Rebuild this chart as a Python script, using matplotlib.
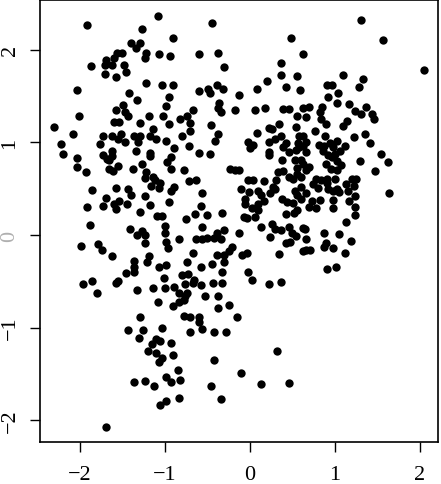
import numpy as np
import matplotlib
matplotlib.use("Agg")
import matplotlib.pyplot as plt

# points, grouped roughly by region
x_upper_left = [-1.08, -1.92, -1.27, -0.91, -1.40, -1.29, -1.34, -1.22, -1.24, -1.07, -0.94, -1.57, -1.50,
                -1.60, -1.69, -1.62, -1.70, -1.87, -1.48, -1.71, -1.58, -1.46, -1.22, -1.04, -0.91, -2.04,
                -1.42, -1.33, -0.95, -1.49, -1.58, -1.47, -1.44, -0.99, -2.01, -1.19, -1.02, -1.60, -1.54,
                -1.29, -2.31, -1.14, -0.95, -2.08, -1.73, -1.62, -1.52, -1.55, -1.47, -1.36, -1.29, -1.32,
                -1.18, -1.11, -0.99, -2.22, -1.77]
y_upper_left = [2.36, 2.27, 2.22, 2.13, 2.07, 2.07, 2.02, 1.97, 1.91, 1.95, 1.93, 1.97, 1.97,
                1.91, 1.89, 1.84, 1.84, 1.83, 1.84, 1.74, 1.71, 1.76, 1.64, 1.62, 1.62, 1.57,
                1.53, 1.46, 1.49, 1.40, 1.35, 1.33, 1.28, 1.39, 1.28, 1.28, 1.28, 1.22, 1.22,
                1.21, 1.17, 1.14, 1.20, 1.09, 1.07, 1.07, 1.09, 1.04, 1.00, 1.07, 1.07, 1.01,
                1.07, 1.04, 1.02, 0.98, 0.98]

x_upper_mid = [-0.45, 0.48, -0.60, -0.38, 0.63, -0.31, 0.36, 0.36, 0.55, -0.60, -0.49, -0.47, -0.39,
               -0.32, -0.13, 0.08, 0.20, 0.43, 0.59, -0.67, -0.36, -0.37, -0.34, -0.17, 0.06, 0.18,
               0.39, 0.46, 0.62, 0.55, -0.82, -0.74, -0.71, -0.71, -0.46, -0.80, -0.38, -0.41, 0.34,
               0.22, 0.26, 0.54, 0.08, -0.02, 0.04, 0.22, 0.30, 0.36, 0.42, 0.58, 0.62, 0.57, 0.63,
               -0.89, -0.72]
y_upper_mid = [2.29, 2.13, 1.95, 1.97, 1.95, 1.81, 1.86, 1.73, 1.72, 1.56, 1.58, 1.53, 1.62,
               1.58, 1.51, 1.58, 1.66, 1.60, 1.57, 1.35, 1.43, 1.37, 1.33, 1.35, 1.35, 1.37,
               1.36, 1.36, 1.37, 1.28, 1.25, 1.28, 1.21, 1.12, 1.19, 1.07, 1.09, 1.02, 1.20,
               1.16, 1.14, 1.17, 1.10, 1.01, 0.97, 1.01, 1.04, 1.07, 0.99, 1.07, 1.07, 0.99, 0.96,
               0.94, 0.96]

x_upper_right = [1.31, 1.56, 2.05, 1.10, 1.33, 1.28, 0.91, 0.97, 1.04, 0.92, 1.02, 1.17, 1.24, 1.31,
                 1.37, 1.44, 1.46, 0.70, 0.66, 0.85, 0.83, 0.84, 0.90, 1.14, 1.09, 0.77, 0.88, 1.22,
                 1.35, 1.41, 1.03, 1.12, 0.81, 0.87, 0.94, 0.98, 0.66]
y_upper_right = [2.32, 2.11, 1.78, 1.73, 1.68, 1.60, 1.62, 1.62, 1.53, 1.49, 1.43, 1.41, 1.34, 1.31,
                 1.38, 1.31, 1.25, 1.38, 1.27, 1.38, 1.33, 1.25, 1.20, 1.23, 1.18, 1.12, 1.07, 1.06,
                 1.09, 0.99, 1.02, 0.96, 0.97, 0.96, 0.99, 0.95, 1.00]

x_mid_left = [-2.20, -2.04, -2.03, -1.93, -1.73, -1.68, -1.62, -1.62, -1.66, -1.55, -1.66, -1.61, -1.34,
              -1.18, -1.18, -1.27, -1.38, -0.98, -0.93, -0.93, -1.22, -1.14, -1.24, -1.12, -1.16, -1.06,
              -1.07, -1.86, -1.58, -1.44, -1.40, -1.69, -1.60, -1.54, -1.58, -1.45, -1.24, -0.95, -0.93,
              -1.92, -1.73, -1.18, -1.29, -1.09, -1.04, -1.88, -1.41, -1.33, -1.27, -1.24, -1.00, -1.00,
              -1.99, -1.79, -1.74, -1.62, -1.23, -0.99, -0.97, -1.19, -1.21, -1.36, -1.36, -1.36, -1.46,
              -1.07, -0.99, -1.01, -1.97, -1.86, -1.80, -1.58, -1.55, -1.33, -1.14, -1.00]
y_mid_left = [0.88, 0.83, 0.74, 0.68, 0.86, 0.82, 0.91, 0.85, 0.81, 0.75, 0.71, 0.69, 0.91,
              0.89, 0.85, 0.77, 0.71, 0.79, 0.84, 0.71, 0.68, 0.63, 0.62, 0.59, 0.53, 0.56,
              0.51, 0.49, 0.51, 0.50, 0.43, 0.40, 0.34, 0.37, 0.28, 0.33, 0.42, 0.36, 0.48,
              0.30, 0.31, 0.32, 0.25, 0.21, 0.21, 0.11, 0.07, 0.00, 0.04, 0.00, 0.10, 0.02,
              -0.12, -0.10, -0.16, -0.23, -0.09, -0.08, -0.14, -0.23, -0.29, -0.28, -0.34, -0.40, -0.41,
              -0.35, -0.32, -0.46, -0.53, -0.50, -0.63, -0.52, -0.50, -0.59, -0.57, -0.57]

x_centre = [-0.60, -0.47, -0.78, -0.89, -0.72, -0.64, -0.56, -0.57, -0.65, -0.50, -0.75, -0.33, -0.56,
            -0.31, -0.84, -0.63, -0.56, -0.50, -0.42, -0.39, -0.34, -0.13, -0.24, -0.17, -0.13, -0.02,
            0.04, 0.16, -0.10, -0.01, 0.09, 0.13, 0.16, 0.09, 0.02, 0.09, 0.06, -0.03, -0.07, -0.06,
            -0.06, 0.00, 0.22, 0.22, 0.39, 0.46, 0.54, 0.58, 0.38, 0.33, 0.39, 0.46, 0.53, 0.55, 0.60,
            0.63, 0.55, 0.60, 0.51, 0.31, 0.27, 0.24, 0.30, 0.38, 0.44, 0.51, 0.53, 0.60, 0.55, 0.55,
            0.52, 0.42, 0.60, 0.26, 0.30, 0.24, 0.36, 0.46, 0.49, 0.54, 0.63, 0.42, 0.47, 0.63, 0.13,
            0.34, -0.21, -0.25, -0.39, -0.31, -0.31, -0.09, -0.04, -0.67, -0.74, -0.45, -0.58, -0.33,
            -0.02, 0.02, -0.80, -0.73, -0.66, -0.76, -0.67, -0.58, -0.44, -0.33, 0.22, 0.37, -0.89,
            -0.84, -0.74, -0.53, -0.38]
y_centre = [0.89, 0.87, 0.70, 0.52, 0.58, 0.59, 0.45, 0.31, 0.23, 0.22, 0.17, 0.24, 0.09,
            0.06, -0.04, -0.04, -0.04, -0.03, -0.03, 0.02, -0.04, 0.02, 0.71, 0.70, 0.70, 0.59,
            0.59, 0.58, 0.50, 0.47, 0.48, 0.43, 0.37, 0.34, 0.29, 0.27, 0.19, 0.18, 0.19, 0.33,
            0.39, 0.94, 0.90, 0.86, 0.95, 0.90, 0.92, 0.95, 0.81, 0.68, 0.69, 0.63, 0.81, 0.72, 0.81,
            0.77, 0.66, 0.63, 0.60, 0.59, 0.52, 0.45, 0.50, 0.39, 0.36, 0.35, 0.48, 0.52, 0.43, 0.27,
            0.24, 0.23, 0.39, 0.12, 0.07, -0.02, 0.06, 0.09, 0.02, -0.01, 0.08, -0.09, -0.08, -0.17, 0.09,
            -0.20, -0.13, -0.17, -0.22, -0.21, -0.29, -0.22, -0.19, -0.19, -0.29, -0.31, -0.35, -0.40,
            -0.40, -0.48, -0.43, -0.42, -0.49, -0.53, -0.52, -0.54, -0.52, -0.52, -0.53, -0.51, -0.56,
            -0.63, -0.63, -0.66, -0.66]

x_mid_right = [0.66, 0.86, 0.92, 1.00, 1.06, 0.96, 1.02, 0.90, 0.95, 1.07, 1.02, 0.70, 0.66, 1.29,
               1.54, 1.62, 1.47, 1.64, 0.78, 0.74, 0.84, 0.91, 0.91, 0.80, 0.92, 0.98, 1.02, 1.05,
               1.00, 1.13, 1.20, 1.25, 1.23, 1.15, 0.66, 0.73, 0.82, 0.69, 0.78, 0.98, 0.98, 1.16,
               1.24, 1.24, 1.24, 1.13, 0.65, 0.87, 1.05, 0.66, 0.90, 0.87, 0.98, 1.19, 0.66, 0.71,
               1.12, 0.91, 1.01]
y_mid_right = [0.90, 0.91, 0.86, 0.88, 0.91, 0.84, 0.80, 0.77, 0.71, 0.76, 0.70, 0.73, 0.70, 0.80,
               0.88, 0.79, 0.69, 0.45, 0.60, 0.55, 0.59, 0.56, 0.60, 0.51, 0.50, 0.48, 0.50, 0.46,
               0.60, 0.55, 0.60, 0.60, 0.53, 0.48, 0.45, 0.37, 0.38, 0.30, 0.29, 0.38, 0.29, 0.37,
               0.42, 0.30, 0.22, 0.14, 0.07, 0.02, 0.01, -0.04, -0.09, -0.13, -0.14, -0.06, -0.16, -0.16,
               -0.19, -0.37, -0.34]

x_lower = [-1.08, -0.91, -1.29, -1.44, -1.26, -1.30, -1.04, -1.11, -1.06, -1.15, -1.20, -1.11, -1.04,
           -1.07, -0.93, -0.91, -1.37, -1.24, -1.13, -0.99, -0.93, -0.99, -1.06, -1.69, -0.83, -0.78,
           -0.76, -0.38, -0.25, -0.78, -0.71, -0.60, -0.60, -0.56, -0.70, -0.42, -0.28, -0.15, -0.42,
           0.32, -0.85, -0.82, -0.10, -0.46, 0.13, 0.46, -0.84, -0.34]
y_lower = [-0.72, -0.77, -0.88, -1.02, -1.02, -1.11, -1.00, -1.12, -1.14, -1.18, -1.25, -1.27, -1.33,
           -1.37, -1.17, -1.29, -1.59, -1.58, -1.63, -1.53, -1.59, -1.79, -1.84, -2.07, -0.72, -0.70,
           -0.66, -0.79, -0.75, -0.87, -0.89, -0.89, -0.94, -1.01, -1.05, -1.05, -1.05, -0.89, -1.35,
           -1.25, -1.46, -1.56, -1.49, -1.63, -1.61, -1.60, -1.76, -1.77]

xs = np.array(x_upper_left + x_upper_mid + x_upper_right + x_mid_left + x_centre + x_mid_right + x_lower)
ys = np.array(y_upper_left + y_upper_mid + y_upper_right + y_mid_left + y_centre + y_mid_right + y_lower)

ticks = [-2, -1, 0, 1, 2]

plt.rcParams['font.family'] = ['Liberation Serif', 'DejaVu Serif']

fig = plt.figure(figsize=(4.41, 4.85), dpi=100)
ax = fig.add_axes([0.090, 0.087, 0.903, 0.911])
ax.plot(xs, ys, 'o', color='black', markersize=6.0, markeredgewidth=0)

ax.set_xlim(-2.474, 2.212)
ax.set_ylim(-2.232, 2.538)
ax.set_xticks(ticks)
ax.set_yticks(ticks)
ax.set_xticklabels([str(t).replace('-', '\u2212') for t in ticks])
ax.set_yticklabels([str(t).replace('-', '\u2212') for t in ticks], rotation=90, va='center')
ax.tick_params(axis='both', direction='out', length=7.5, width=1.0, labelsize=16, color='black')
ax.tick_params(axis='x', pad=9)
ax.tick_params(axis='y', pad=7)
ax.get_yticklabels()[2].set_color('#b0b0b0')
for s in ax.spines.values():
    s.set_linewidth(1.2)

fig.savefig("out.png", dpi=100)
